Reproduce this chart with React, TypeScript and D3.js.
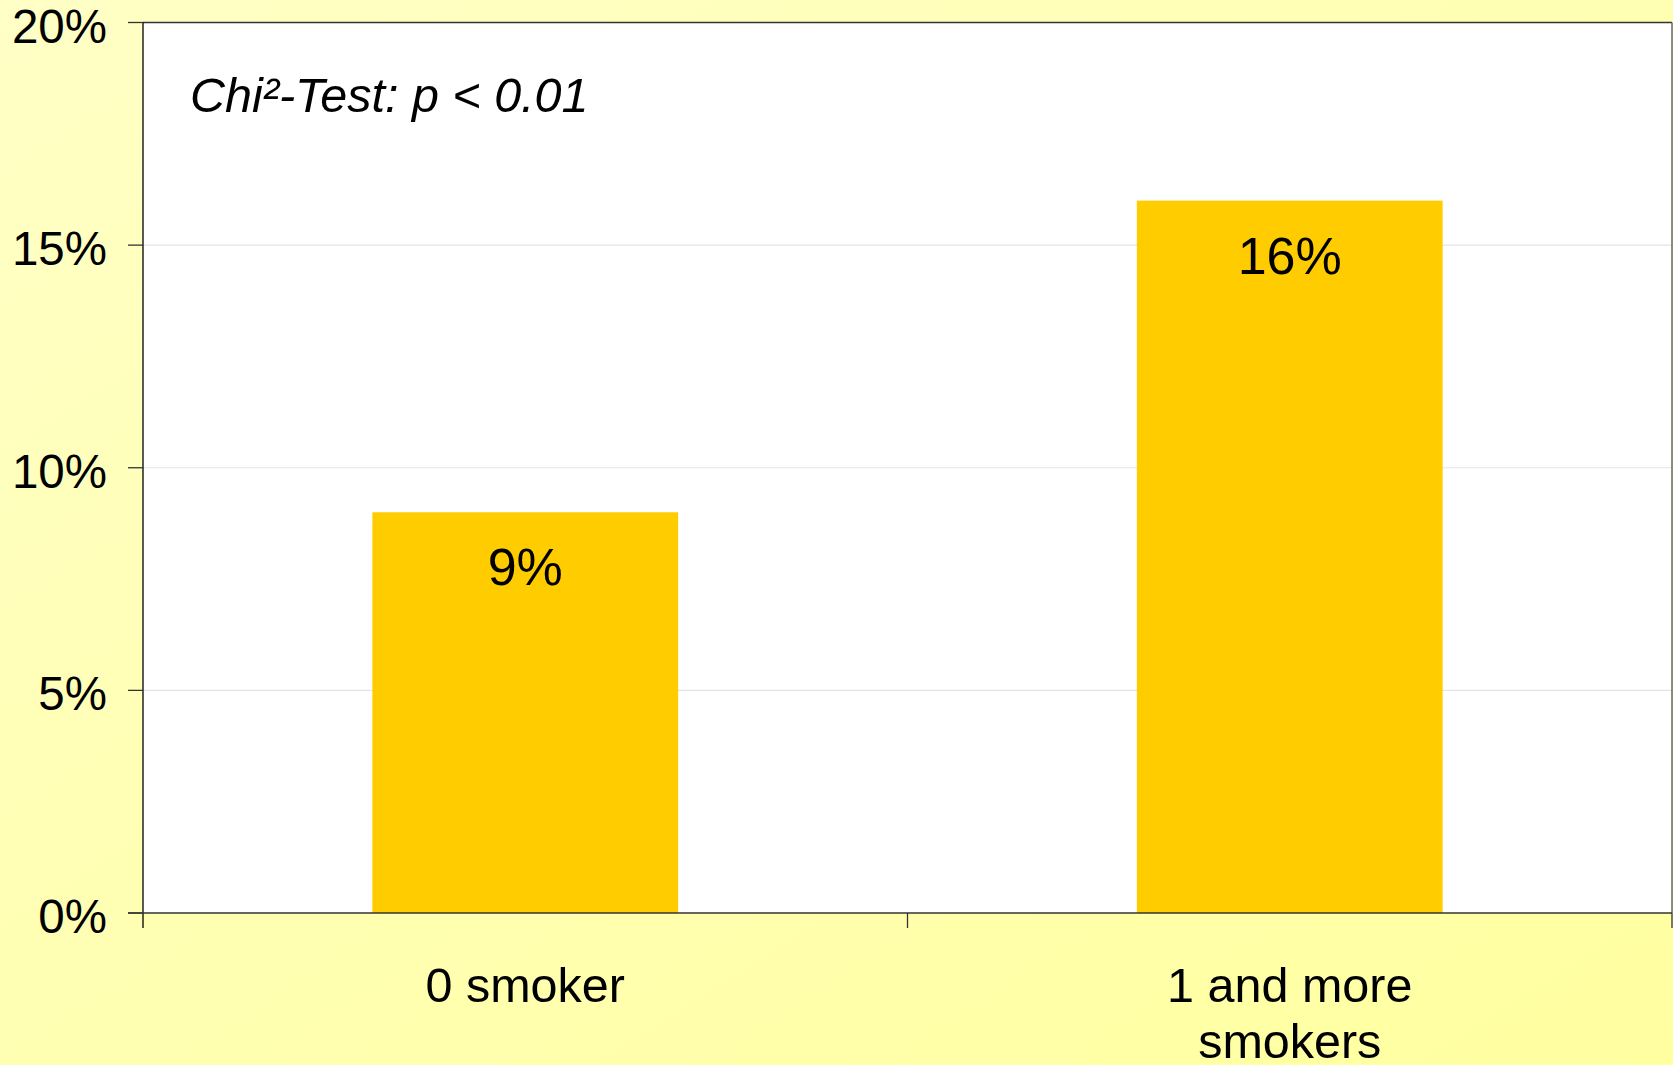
import React from "react";
import * as d3 from "d3";

const categories: string[][] = [["0 smoker"], ["1 and more", "smokers"]];
const categoryKeys = ["0 smoker", "1 and more smokers"];
const values = [0.09, 0.16];
const yTicks = [0, 0.05, 0.1, 0.15, 0.2];
const annotation = "Chi²-Test: p < 0.01";

const W = 1673;
const H = 1065;
const left = 143;
const right = 1672;
const top = 22.5;
const bottom = 913;
const FONT = "'Liberation Sans', Arial, sans-serif";

export default function App() {
  const y = d3.scaleLinear().domain([0, 0.2]).range([bottom, top]);
  const x = d3.scaleBand<string>().domain(categoryKeys).range([left, right]).padding(0);
  const bw = x.bandwidth() * 0.4;
  const fmt = d3.format(".0%");
  return (
    <svg width={W} height={H} style={{ position: "absolute", left: 0, top: 0 }} fontFamily={FONT}>
      <defs>
        <linearGradient id="bg" x1="0" y1="0" x2="1" y2="1">
          <stop offset="0" stopColor="#FFFFC6" />
          <stop offset="0.45" stopColor="#FFFFB4" />
          <stop offset="1" stopColor="#FFFFA0" />
        </linearGradient>
      </defs>
      <rect x={0} y={0} width={W} height={H} fill="url(#bg)" />
      <rect x={left} y={top} width={right - left} height={bottom - top} fill="#ffffff" />
      {yTicks.slice(1, -1).map((t) => (
        <line key={"g" + t} x1={left} x2={right} y1={y(t)} y2={y(t)} stroke="#e4e4e4" strokeWidth={1.2} />
      ))}
      {categoryKeys.map((c, i) => (
        <rect
          key={c}
          x={(x(c) as number) + (x.bandwidth() - bw) / 2}
          y={y(values[i])}
          width={bw}
          height={bottom - y(values[i])}
          fill="#FFCC00"
        />
      ))}
      {categoryKeys.map((c, i) => (
        <text
          key={"l" + c}
          x={(x(c) as number) + x.bandwidth() / 2}
          y={y(values[i]) + 73}
          textAnchor="middle"
          fontSize={52}
          fill="#000"
        >
          {fmt(values[i])}
        </text>
      ))}
      <line x1={left} x2={right} y1={top} y2={top} stroke="#333" strokeWidth={1.5} />
      <line x1={right} x2={right} y1={top} y2={bottom} stroke="#666" strokeWidth={1.5} />
      <line x1={left} x2={left} y1={top} y2={bottom + 15} stroke="#000" strokeWidth={1.3} />
      <line x1={left - 15} x2={right} y1={bottom} y2={bottom} stroke="#333" strokeWidth={1.5} />
      {yTicks.map((t) => (
        <g key={"t" + t}>
          <line x1={left - 15} x2={left} y1={y(t)} y2={y(t)} stroke="#333" strokeWidth={1.3} />
          <text x={107} y={y(t) + 20} textAnchor="end" fontSize={47.5} fill="#000">
            {fmt(t)}
          </text>
        </g>
      ))}
      {categoryKeys.map((c) => (
        <line
          key={"xt" + c}
          x1={(x(c) as number) + x.bandwidth()}
          x2={(x(c) as number) + x.bandwidth()}
          y1={bottom}
          y2={bottom + 15}
          stroke="#333"
          strokeWidth={1.3}
        />
      ))}
      {categoryKeys.map((c, i) => (
        <text
          key={"xl" + c}
          x={(x(c) as number) + x.bandwidth() / 2}
          y={1002}
          textAnchor="middle"
          fontSize={48.5}
          fill="#000"
        >
          {categories[i].map((line, j) => (
            <tspan key={j} x={(x(c) as number) + x.bandwidth() / 2} dy={j === 0 ? 0 : 56}>
              {line}
            </tspan>
          ))}
        </text>
      ))}
      <text x={190} y={112} fontSize={48.5} fontStyle="italic" fill="#000">
        {annotation}
      </text>
    </svg>
  );
}
